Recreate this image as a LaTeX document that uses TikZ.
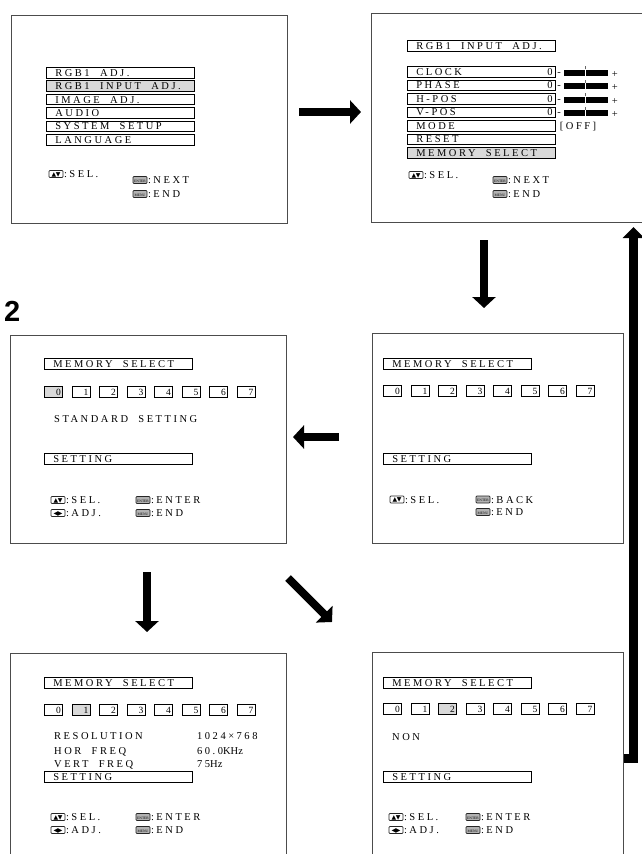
\documentclass[tikz,border=0pt]{standalone}
\usepackage{fontspec}
\usetikzlibrary{arrows.meta,positioning}
\newfontfamily\osdfam[LetterSpace=24,WordSpace=2]{Liberation Serif}
\newfontfamily\plainfam{Liberation Serif}
\newfontfamily\symfam{DejaVu Sans}
\newfontfamily\headfam{Liberation Sans}
\newcommand{\osd}{\osdfam\fontsize{10.5}{12}\selectfont}
\newcommand{\osdn}{\plainfam\fontsize{10.5}{12}\selectfont}
\newcommand{\numf}{\plainfam\fontsize{9.5}{11}\selectfont}
\newcommand{\btnf}{\plainfam\fontsize{3.6}{4}\selectfont}
\newcommand{\updn}{{\symfam\fontsize{6}{6}\selectfont ▲\kern-0.3pt▼}}
\newcommand{\lfrt}{{\symfam\fontsize{6}{6}\selectfont ◀\kern-0.3pt▶}}
\tikzset{
  scr/.style={draw=black!70,line width=0.9pt,anchor=north west,inner sep=0pt},
  row/.style={draw,line width=0.7pt,anchor=north west,minimum width=148pt,inner xsep=4pt,inner ysep=1.5pt,
    text height=7.5pt,text depth=0pt,font=\osd,
    execute at begin node={\hbox to 140pt\bgroup\hspace*{5pt}},execute at end node={\hfil\egroup}},
  hl/.style={fill=black!15},
  numb/.style={draw,line width=0.6pt,anchor=north west,minimum width=18pt,text width=15pt,inner xsep=1.5pt,inner ysep=1.5pt,
    text height=7.5pt,text depth=0pt,align=right,font=\numf},
  txt/.style={font=\osd,inner sep=0pt,anchor=west,text height=7pt,text depth=0pt},
  btn/.style={draw=black!85,line width=0.7pt,rounded corners=0.8pt,fill=white,minimum width=14pt,minimum height=7pt,
    inner sep=0pt,text height=4.5pt,text depth=0pt,font=\btnf},
  key/.style={btn,fill=black!30},
  bar/.style={fill=black,minimum width=44pt,minimum height=6pt,inner sep=0pt},
  blk/.style={line width=8pt,-{Triangle[length=11pt,width=23pt]}}
}
% row of memory boxes: name, x, y, lit box (-1 for none)
\newcommand{\numrow}[4]{\foreach \nn in {0,...,7}{%
  \ifnum\nn=#4 \def\fc{black!15}\else\def\fc{white}\fi
  \node[numb,fill=\fc] (#1-\nn) at (#2+27.5*\nn,#3) {\nn};}}
% key hint: name, x, y, style, key face, text
\newcommand{\keyhint}[6]{\node[#4] (#1) at (#2,#3) {#5};
  \node[txt,right=0.5pt of #1] (#1-t) {#6};}
% slider next to a row: name, row
\newcommand{\slider}[2]{\node[txt] (#1-m) at ([xshift=1.5pt]#2.east) {-};
  \node[bar] (#1-b) at ([shift={(30,1)}]#2.east) {};
  \draw[white,line width=0.5pt] (#1-b.north) -- (#1-b.south);
  \draw[black!60,line width=0.5pt] (#1-b.north) -- ++(0,-3);
  \node[txt] (#1-p) at ([shift={(56,2)}]#2.east) {+};}

\begin{document}
\begin{tikzpicture}[x=1pt,y=-1pt]
\useasboundingbox (0,0) rectangle (642,854);
\clip (0,0) rectangle (642,854);
% screens
\node[scr,minimum width=276pt,minimum height=208pt] (s1) at (11,15) {};
\node[scr,minimum width=290pt,minimum height=209pt] (s2) at (371,13) {};
\node[scr,minimum width=276pt,minimum height=208pt] (s3) at (10,335) {};
\node[scr,minimum width=251pt,minimum height=210pt] (s4) at (372,333) {};
\node[scr,minimum width=276pt,minimum height=250pt] (s5) at (10,653) {};
\node[scr,minimum width=251pt,minimum height=250pt] (s6) at (372,652) {};
\node[font=\headfam\bfseries\fontsize{29}{30}\selectfont,anchor=base west,inner sep=0pt] (lbl2) at (4,321) {2};

% main menu
\node[row] (m1) at (46,67) {RGB1 ADJ.};
\node[row,hl,below=2.2pt of m1] (m2) {RGB1 INPUT ADJ.};
\node[row,below=2.2pt of m2] (m3) {IMAGE ADJ.};
\node[row,below=2.2pt of m3] (m4) {AUDIO};
\node[row,below=2.2pt of m4] (m5) {SYSTEM SETUP};
\node[row,below=2.2pt of m5] (m6) {LANGUAGE};
\keyhint{k1a}{56}{174}{btn}{\updn}{:SEL.}
\keyhint{k1b}{140}{180}{key}{ENTER}{:NEXT}
\keyhint{k1c}{140}{194}{key}{MENU}{:END}

% input adjust
\node[row] (t2) at (407,40) {RGB1 INPUT ADJ.};
\node[row] (clk) at (407,66) {CLOCK};
\node[row,below=2.3pt of clk] (pha) {PHASE};
\node[row,below=2.3pt of pha] (hpos) {H-POS};
\node[row,below=2.3pt of hpos] (vpos) {V-POS};
\node[row,below=2.3pt of vpos] (mode) {MODE};
\node[row,below=2.3pt of mode] (rst) {RESET};
\node[row,hl,below=2.3pt of rst] (msel) {MEMORY SELECT};
\node[txt,font=\osdn,anchor=east] (clk-v) at ([xshift=-3pt]clk.east) {0};
\node[txt,font=\osdn,anchor=east] (pha-v) at ([xshift=-3pt]pha.east) {0};
\node[txt,font=\osdn,anchor=east] (hpos-v) at ([xshift=-3pt]hpos.east) {0};
\node[txt,font=\osdn,anchor=east] (vpos-v) at ([xshift=-3pt]vpos.east) {0};
\slider{sl1}{clk}
\slider{sl2}{pha}
\slider{sl3}{hpos}
\slider{sl4}{vpos}
\node[txt] (off) at ([xshift=4pt]mode.east) {[OFF]};
\keyhint{k2a}{416}{175}{btn}{\updn}{:SEL.}
\keyhint{k2b}{500}{180}{key}{ENTER}{:NEXT}
\keyhint{k2c}{500}{194}{key}{MENU}{:END}

% memory select, standard
\node[row] (t3) at (44,358) {MEMORY SELECT};
\numrow{n3}{44}{386}{0}
\node[txt] (std) at (54,419) {STANDARD SETTING};
\node[row] (set3) at (44,453) {SETTING};
\keyhint{k3a}{58}{500}{btn}{\updn}{:SEL.}
\keyhint{k3b}{58}{513}{btn}{\lfrt}{:ADJ.}
\keyhint{k3c}{143}{500}{key}{ENTER}{:ENTER}
\keyhint{k3d}{143}{513}{key}{MENU}{:END}

% memory select, back
\node[row] (t4) at (383,358) {MEMORY SELECT};
\numrow{n4}{383}{385}{-1}
\node[row] (set4) at (383,453) {SETTING};
\keyhint{k4a}{397}{499.5}{btn}{\updn}{:SEL.}
\keyhint{k4b}{483}{499.5}{key}{ENTER}{:BACK}
\keyhint{k4c}{483}{512}{key}{MENU}{:END}

% memory select, stored
\node[row] (t5) at (44,677) {MEMORY SELECT};
\numrow{n5}{44}{704}{1}
\node[txt] (res) at (54,736) {RESOLUTION};
\node[txt] (res-v) at (197,736) {1024×768};
\node[txt] (hf) at (54,751) {HOR FREQ};
\node[txt] (hf-v) at (197,751) {60.0{\osdn KHz}};
\node[txt] (vf) at (54,764) {VERT FREQ};
\node[txt] (vf-v) at (197,764) {75{\osdn Hz}};
\node[row] (set5) at (44,771) {SETTING};
\keyhint{k5a}{58}{817}{btn}{\updn}{:SEL.}
\keyhint{k5b}{58}{830}{btn}{\lfrt}{:ADJ.}
\keyhint{k5c}{143}{817}{key}{ENTER}{:ENTER}
\keyhint{k5d}{143}{830}{key}{MENU}{:END}

% memory select, empty
\node[row] (t6) at (383,677) {MEMORY SELECT};
\numrow{n6}{383}{703}{2}
\node[txt] (non) at (392,737) {NON};
\node[row] (set6) at (383,771) {SETTING};
\keyhint{k6a}{396}{817}{btn}{\updn}{:SEL.}
\keyhint{k6b}{396}{830}{btn}{\lfrt}{:ADJ.}
\keyhint{k6c}{473}{817}{key}{ENTER}{:ENTER}
\keyhint{k6d}{473}{830}{key}{MENU}{:END}

% flow arrows
\coordinate (a1s) at (299,112); \coordinate (a1e) at (361,112);
\coordinate (a2s) at (484,240); \coordinate (a2e) at (484,308);
\coordinate (a3s) at (339,437); \coordinate (a3e) at (293,437);
\coordinate (a4s) at (147,572); \coordinate (a4e) at (147,632);
\coordinate (a5s) at (288,578); \coordinate (a5e) at (332,622);
\coordinate (rets) at (s6.east |- 0,758.5); \coordinate (rete) at (633.5,227);
\draw[blk] (a1s) -- (a1e);
\draw[blk] (a2s) -- (a2e);
\draw[blk] (a3s) -- (a3e);
\draw[blk] (a4s) -- (a4e);
\draw[blk] (a5s) -- (a5e);
\draw[blk,line width=9pt,line join=miter,-{Triangle[length=11pt,width=21pt]}] (rets) -| (rete);
\end{tikzpicture}
\end{document}
